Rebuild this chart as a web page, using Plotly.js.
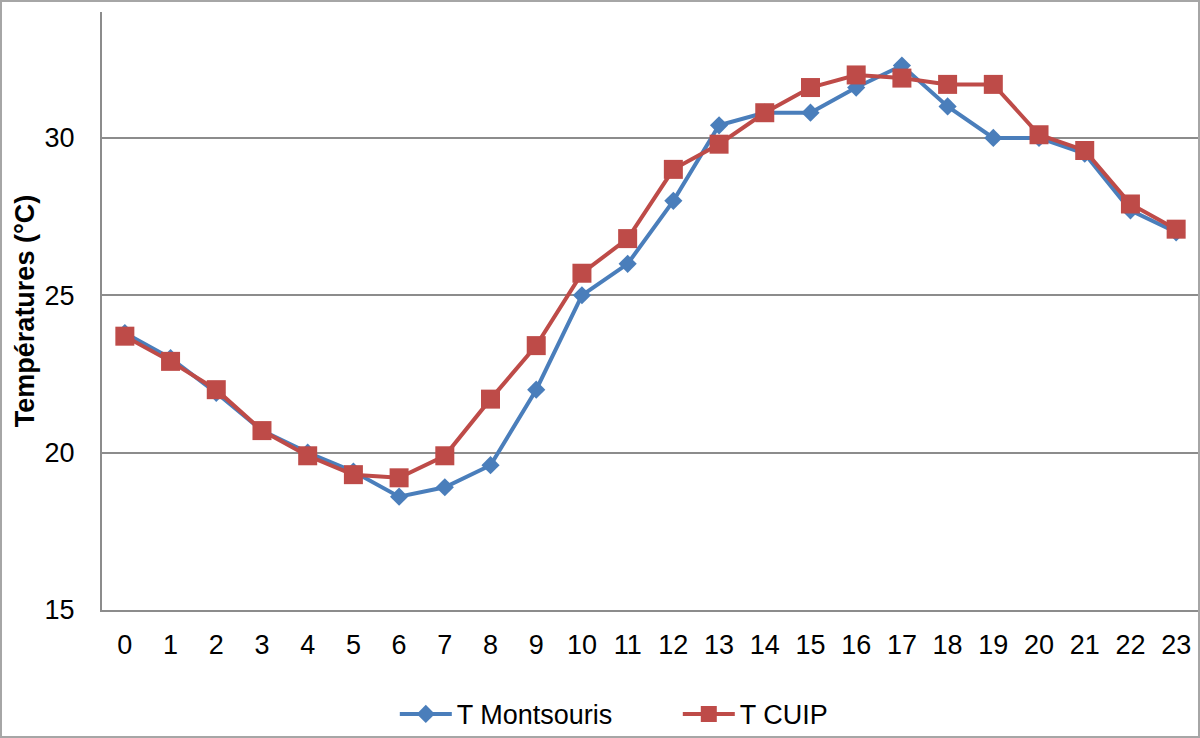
<!DOCTYPE html>
<html>
<head>
<meta charset="utf-8">
<script src="https://cdn.plot.ly/plotly-3.0.1.min.js"></script>
<style>
  html, body { margin: 0; padding: 0; background: #ffffff; }
  #wrap { position: relative; width: 1200px; height: 738px; }
  #chart { width: 1200px; height: 738px; }
  #frame { position: absolute; left: 0; top: 0; width: 1200px; height: 738px;
           box-sizing: border-box; border: 2px solid #a6a6a6; pointer-events: none; }
</style>
</head>
<body>
<div id="wrap">
  <div id="chart"></div>
  <div id="frame"></div>
</div>
<script>
const hours = [0, 1, 2, 3, 4, 5, 6, 7, 8, 9, 10, 11, 12, 13, 14, 15, 16, 17, 18, 19, 20, 21, 22, 23];
const hourLabels = ['0','1','2','3','4','5','6','7','8','9','10','11','12','13','14','15','16','17','18','19','20','21','22','23'];
const tMontsouris = [23.8, 23.0, 21.9, 20.7, 20.0, 19.4, 18.6, 18.9, 19.6, 22.0, 25.0, 26.0, 28.0, 30.4, 30.8, 30.8, 31.6, 32.3, 31.0, 30.0, 30.0, 29.5, 27.7, 27.0];
const tCUIP = [23.7, 22.9, 22.0, 20.7, 19.9, 19.3, 19.2, 19.9, 21.7, 23.4, 25.7, 26.8, 29.0, 29.8, 30.8, 31.6, 32.0, 31.9, 31.7, 31.7, 30.1, 29.6, 27.9, 27.1];
const yTicks = [15, 20, 25, 30];
const seriesNames = ['T Montsouris', 'T CUIP'];

const FONT = '"Liberation Sans", Arial, sans-serif';

const traces = [
  {
    x: hours, y: tMontsouris, name: seriesNames[0], type: 'scatter', mode: 'lines+markers',
    line: { color: '#4a7ebb', width: 4 },
    marker: { symbol: 'diamond', size: 14, color: '#4a7ebb' },
    legendwidth: 216
  },
  {
    x: hours, y: tCUIP, name: seriesNames[1], type: 'scatter', mode: 'lines+markers',
    line: { color: '#be4b48', width: 4 },
    marker: { symbol: 'square', size: 19, color: '#be4b48' }
  }
];

const layout = {
  width: 1200, height: 738,
  margin: { l: 102, r: 1, t: 12, b: 128 },
  paper_bgcolor: '#ffffff', plot_bgcolor: '#ffffff',
  font: { family: FONT, color: '#000000', size: 26 },
  showlegend: true,
  legend: {
    orientation: 'h', xref: 'paper', yref: 'container',
    x: 0.467, xanchor: 'center', y: 0.032, yanchor: 'middle',
    font: { family: FONT, size: 27, color: '#000000' },
    itemwidth: 52, bgcolor: 'rgba(0,0,0,0)'
  },
  xaxis: {
    type: 'linear', range: [-0.5, 23.5],
    tickmode: 'array', tickvals: hours, ticktext: hourLabels,
    showgrid: false, zeroline: false,
    showline: true, linecolor: '#8c8c8c', linewidth: 2,
    ticks: '', ticklabelstandoff: 10,
    tickfont: { family: FONT, size: 27, color: '#000000' },
    fixedrange: true
  },
  yaxis: {
    range: [15, 34], tickmode: 'array', tickvals: yTicks,
    showgrid: true, gridcolor: '#8c8c8c', gridwidth: 2,
    zeroline: false, showline: true, linecolor: '#8c8c8c', linewidth: 2,
    ticks: '', ticklabelstandoff: 20,
    tickfont: { family: FONT, size: 27, color: '#000000' },
    title: { text: 'Températures (°C)', standoff: 2,
             font: { family: FONT, size: 27, color: '#000000', weight: 'bold' } },
    fixedrange: true
  }
};

Plotly.newPlot('chart', traces, layout, { displayModeBar: false, staticPlot: true });
</script>
</body>
</html>
